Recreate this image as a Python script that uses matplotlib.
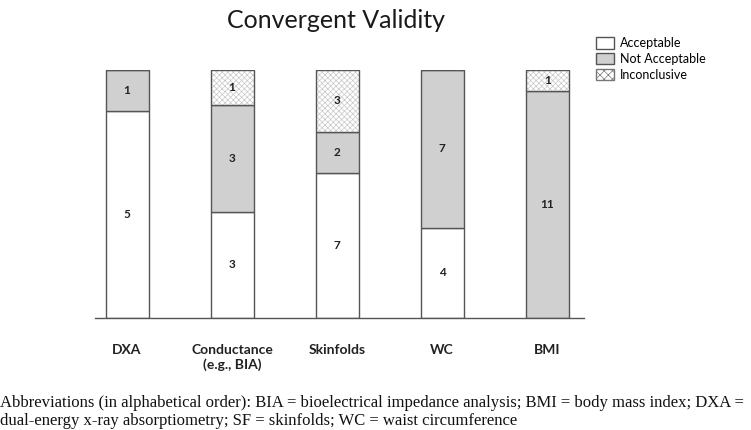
import matplotlib
matplotlib.use("Agg")
import matplotlib.pyplot as plt
from matplotlib.patches import Patch
import numpy as np

categories = ["DXA", "Conductance\n(e.g., BIA)", "Skinfolds", "WC", "BMI"]
acceptable = [5, 3, 7, 4, 0]
not_acceptable = [1, 3, 2, 7, 11]
inconclusive = [0, 1, 3, 0, 1]
series_names = ["Acceptable", "Not Acceptable", "Inconclusive"]

plt.rcParams['font.family'] = ['Lato', 'DejaVu Sans']
plt.rcParams['hatch.linewidth'] = 0.5

fig = plt.figure(figsize=(7.51, 4.30), dpi=100)
ax = fig.add_axes([95/751, 1-318/430, (584-95)/751, (318-70)/430])

data = np.array([acceptable, not_acceptable, inconclusive], dtype=float)
totals = data.sum(axis=0)
frac = data / totals
x = np.arange(len(categories))
width = 0.41
fills = ['white', '#d0d0d0', 'white']
hatches = [None, None, 'xxxxxx']
hatch_col = '#c8c8c8'
edge = '#555555'
bottom = np.zeros(len(categories))
for i, name in enumerate(series_names):
    if hatches[i]:
        ax.bar(x, frac[i], width, bottom=bottom, color=fills[i], hatch=hatches[i],
               edgecolor=hatch_col, linewidth=0)
        ax.bar(x, frac[i], width, bottom=bottom, fill=False, edgecolor=edge, linewidth=1.0)
    else:
        ax.bar(x, frac[i], width, bottom=bottom, color=fills[i], edgecolor=edge, linewidth=1.0)
    for j in range(len(categories)):
        if data[i, j] > 0:
            ax.text(x[j], bottom[j] + frac[i, j] / 2, f"{int(data[i, j])}", ha='center', va='center',
                    fontsize=8.5, fontweight='bold', color='#222222')
    bottom += frac[i]

ax.set_xlim(-0.305, 4.35)
ax.set_ylim(0, 1)
for s in ['top', 'right', 'left']:
    ax.spines[s].set_visible(False)
ax.spines['bottom'].set_color(edge)
ax.spines['bottom'].set_linewidth(1.0)
ax.set_yticks([])
ax.set_xticks(x)
ax.set_xticklabels(categories, fontsize=10, fontweight='bold', color='#222222')
ax.tick_params(axis='x', length=0, pad=19)

fig.text(336/751, 1-20/430, "Convergent Validity", ha='center', va='center', fontsize=18, color='#1a1a1a')

handles = [Patch(facecolor='white', edgecolor=edge, linewidth=1.0),
           Patch(facecolor='#d0d0d0', edgecolor=edge, linewidth=1.0),
           Patch(facecolor='white', edgecolor='#777777', hatch='xxxx', linewidth=1.0)]
leg = fig.legend(handles=handles, labels=series_names, loc='upper left', bbox_to_anchor=(596/751, 1-37/430),
                 frameon=False, fontsize=9, handlelength=1.45, handleheight=1.05, handletextpad=0.45,
                 labelspacing=0.3, borderaxespad=0, borderpad=0)

fig.text(0/751, 1-403/430, "Abbreviations (in alphabetical order): BIA = bioelectrical impedance analysis; BMI = body mass index; DXA =",
         ha='left', va='center', fontsize=12, family='Liberation Serif', color='#111111')
fig.text(0/751, 1-421/430, "dual-energy x-ray absorptiometry; SF = skinfolds; WC = waist circumference",
         ha='left', va='center', fontsize=12, family='Liberation Serif', color='#111111')

fig.savefig("out.png", dpi=100)
